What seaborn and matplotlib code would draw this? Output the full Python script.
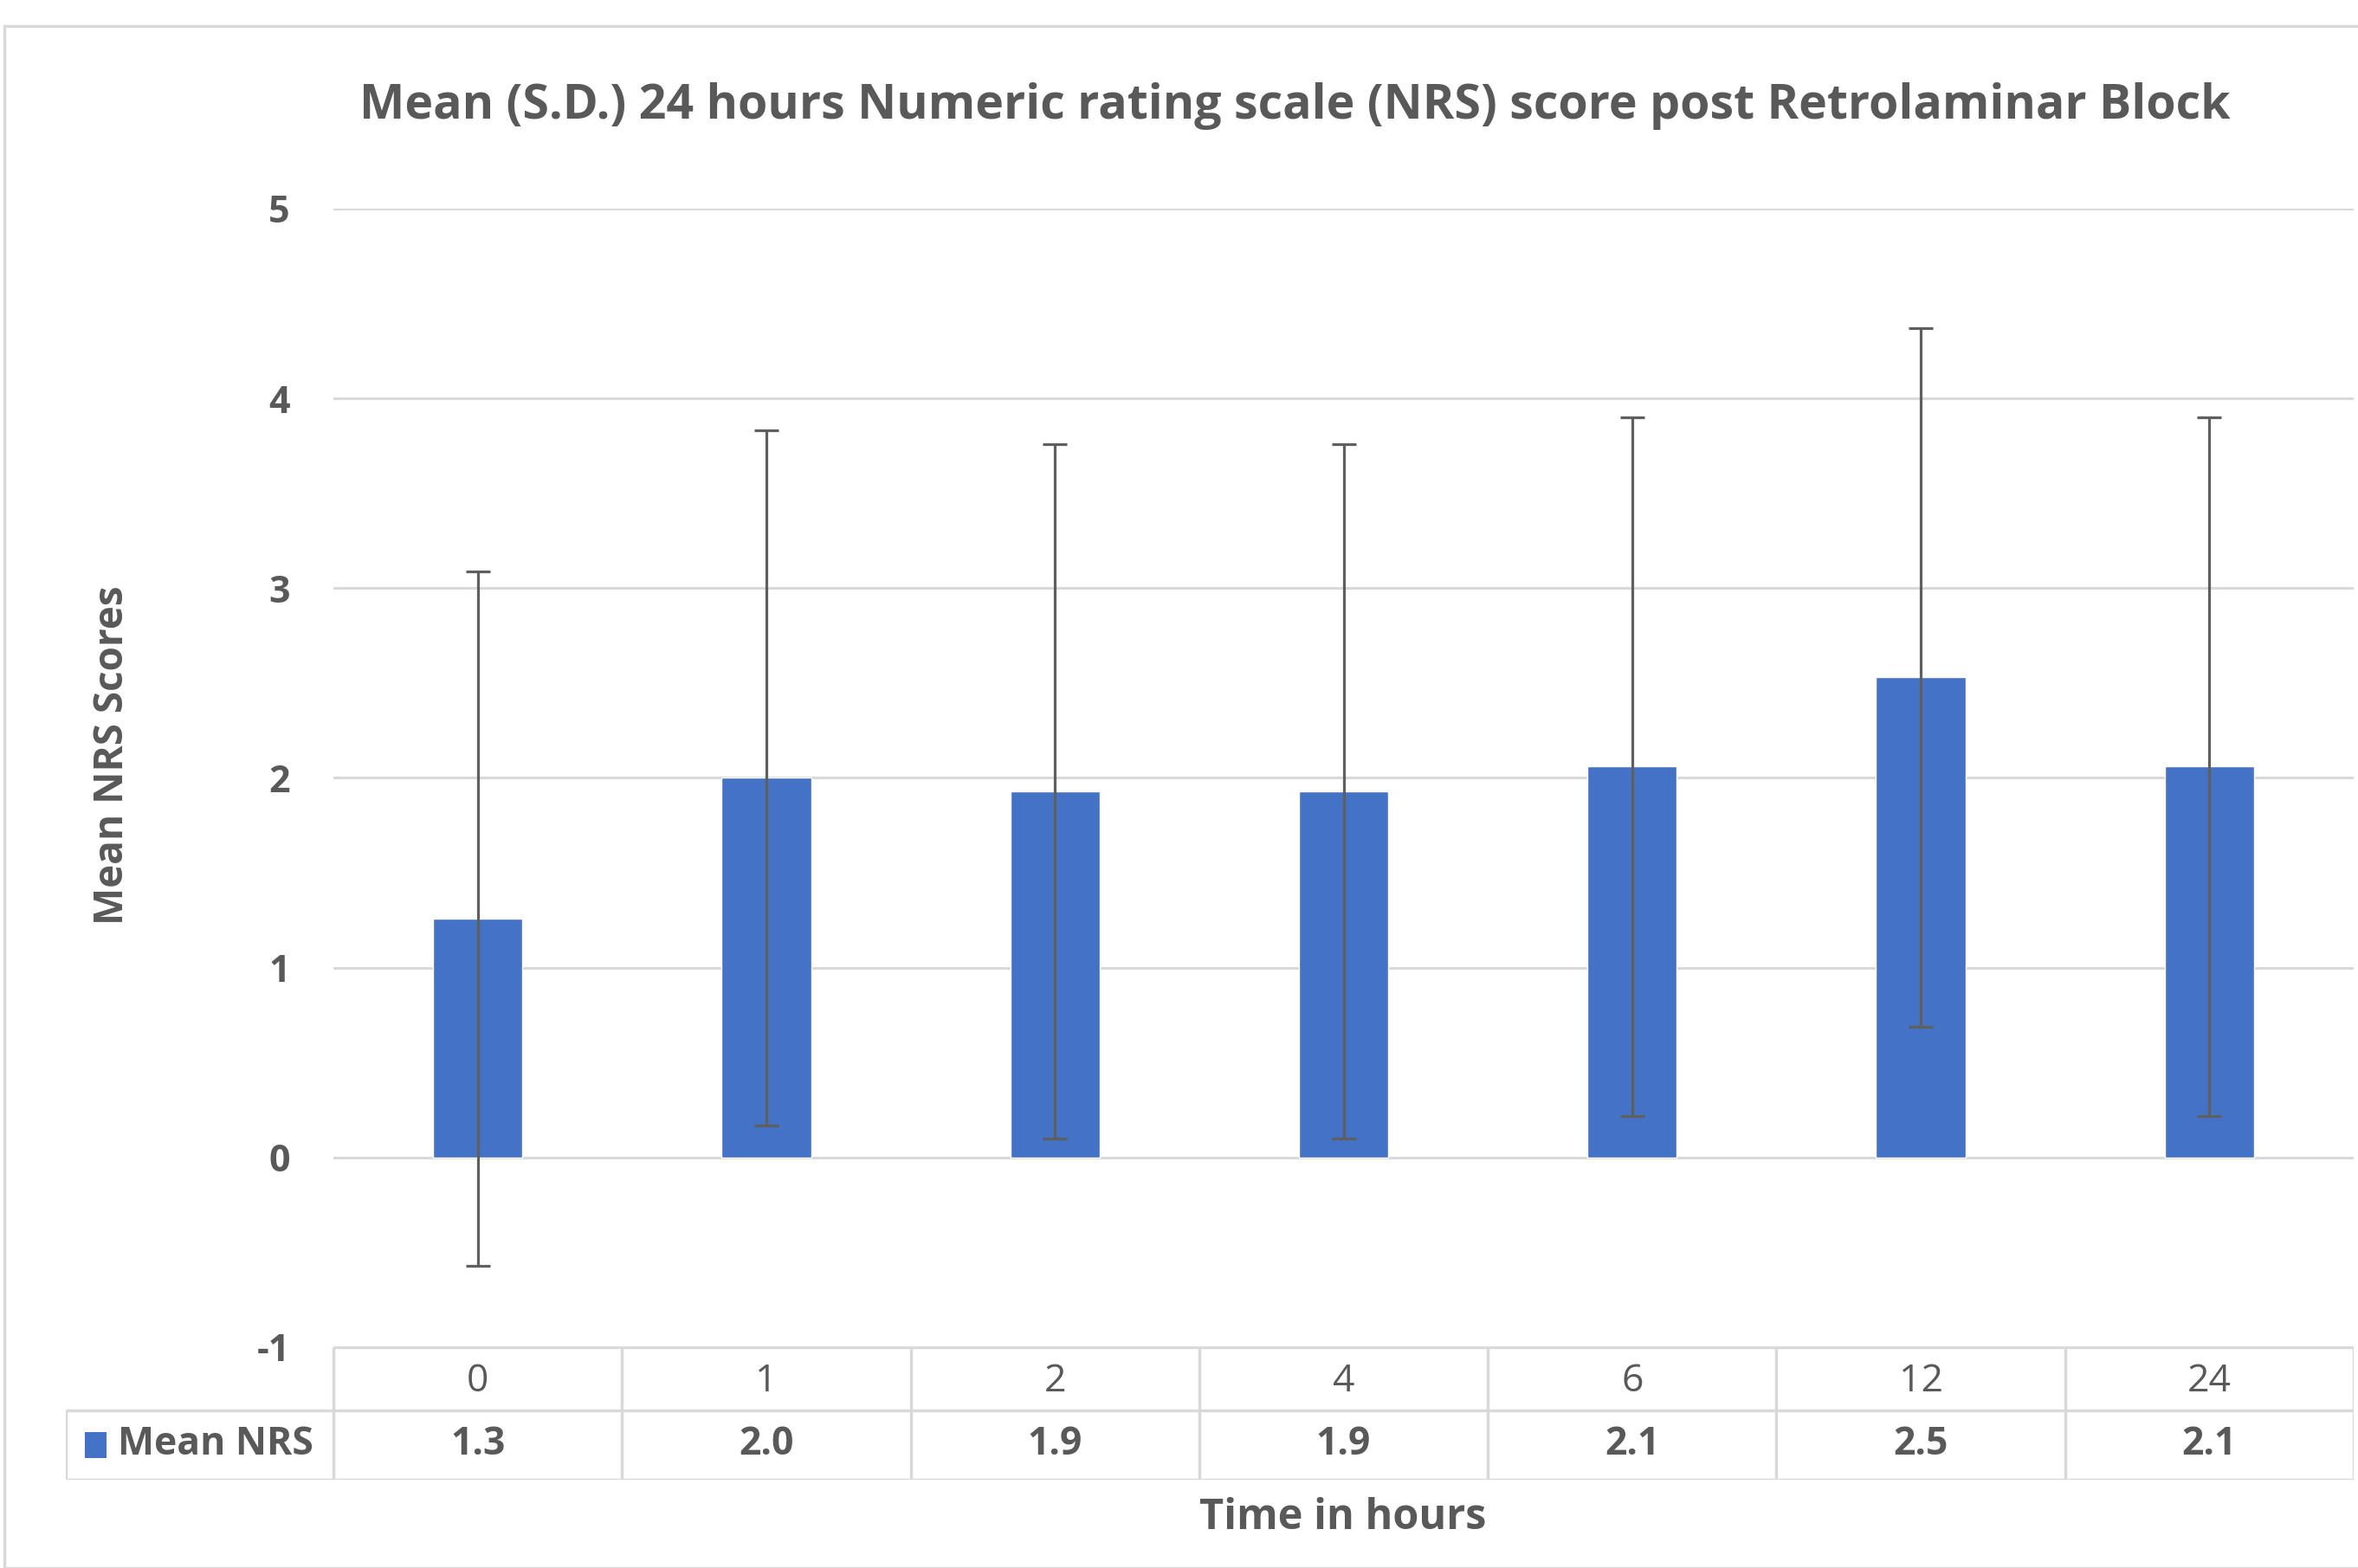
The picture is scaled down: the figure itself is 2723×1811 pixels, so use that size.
import numpy as np
import pandas as pd
import seaborn as sns
import matplotlib.pyplot as plt
from matplotlib.patches import Rectangle

# data
hours = ['0', '1', '2', '4', '6', '12', '24']
mean_nrs = [1.26, 2.00, 1.93, 1.93, 2.06, 2.53, 2.06]
sd_nrs = [1.83, 1.83, 1.83, 1.83, 1.84, 1.84, 1.84]
table_vals = ['1.3', '2.0', '1.9', '1.9', '2.1', '2.5', '2.1']

title = 'Mean (S.D.) 24 hours Numeric rating scale (NRS) score post Retrolaminar Block'
series_name = 'Mean NRS'

df = pd.DataFrame({'hours': hours, 'mean': mean_nrs, 'sd': sd_nrs})

sns.set_theme(style='white')
plt.rcParams['font.family'] = ['Open Sans', 'DejaVu Sans']
plt.rcParams['axes.unicode_minus'] = False

W, H = 2723, 1811
fig = plt.figure(figsize=(W / 100, H / 100), dpi=100)

txt = '#595959'
grid_c = '#d9d9d9'
bar_c = '#4472C4'

# pixel layout of the reference
ax_l, ax_r = 385, 2718
ax_top, ax_bot = 241, 1556
tab_l, tab_mid, tab_bot = 76, 1629, 1709

ax = fig.add_axes([ax_l / W, 1 - ax_bot / H, (ax_r - ax_l) / W, (ax_bot - ax_top) / H])
sns.barplot(data=df, x='hours', y='mean', color=bar_c, width=0.31,
            saturation=1, ax=ax, errorbar=None, order=hours)
centers = [p.get_x() + p.get_width() / 2 for p in ax.patches]
ax.errorbar(centers, df['mean'], yerr=df['sd'], fmt='none', ecolor='#5f5f5f',
            elinewidth=2.3, capsize=10, capthick=2.3, zorder=5)

ax.set_xlim(-0.5, len(hours) - 0.5)
ax.set_ylim(-1, 5)
ax.set_yticks(range(-1, 6))
ax.yaxis.grid(True, color=grid_c, lw=2.2)
ax.set_axisbelow(True)
for s in ax.spines.values():
    s.set_visible(False)
ax.set_xticks([])
ax.set_xlabel('')
ax.set_ylabel('')
ax.tick_params(axis='y', length=0, pad=36, labelsize=31, labelcolor=txt)
for t in ax.get_yticklabels():
    t.set_fontweight('bold')

# data table under the plot
tax = fig.add_axes([tab_l / W, 1 - tab_bot / H, (ax_r - tab_l) / W, (tab_bot - ax_bot) / H])
n = len(hours)
xmin = -0.5 - (ax_l - tab_l) / (ax_r - ax_l) * n
tax.set_xlim(xmin, n - 0.5)
tax.set_ylim(0, 1)
tax.axis('off')
mid = (tab_bot - tab_mid) / (tab_bot - ax_bot)
lk = dict(color=grid_c, lw=2.5, solid_capstyle='butt')
tax.plot([-0.5, n - 0.5], [1, 1], **lk)
tax.plot([xmin, n - 0.5], [mid, mid], **lk)
tax.plot([xmin, n - 0.5], [0, 0], **lk)
for k in range(n + 1):
    tax.plot([k - 0.5, k - 0.5], [0, 1], **lk)
tax.plot([xmin, xmin], [0, mid], **lk)
for i, (h, v) in enumerate(zip(hours, table_vals)):
    tax.text(i, (1 + mid) / 2 - 0.02, h, ha='center', va='center', fontsize=32, color=txt)
    tax.text(i, mid / 2, v, ha='center', va='center', fontsize=32, color=txt,
             fontweight='bold')
tax.add_patch(Rectangle((xmin + 0.065, mid / 2 - 0.1), 0.075, 0.2, color=bar_c, lw=0))
tax.text(xmin + 0.18, mid / 2, series_name, ha='left', va='center', fontsize=32,
         color=txt, fontweight='bold')

fig.text(1495 / W, 1 - 122 / H, title, ha='center', va='center', fontsize=40,
         color=txt, fontweight='bold')
fig.text(1551 / W, 1 - 1754 / H, 'Time in hours', ha='center', va='center',
         fontsize=35, color=txt, fontweight='bold')
fig.text(130 / W, 1 - 872 / H, 'Mean NRS Scores', ha='center', va='center',
         rotation=90, fontsize=33, color=txt, fontweight='bold')

# outer chart frame
fig.patches.append(Rectangle((5 / W, 0), 1.0, 1 - 30 / H, transform=fig.transFigure,
                             fill=False, ec=grid_c, lw=2.5))

fig.savefig('out.png', dpi=100, facecolor='white')
